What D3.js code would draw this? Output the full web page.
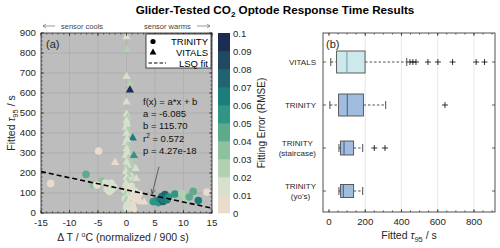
<!DOCTYPE html>
<html>
<head>
<meta charset="utf-8">
<script src="https://cdn.jsdelivr.net/npm/d3@7/dist/d3.min.js"></script>
<style>
  body { margin: 0; background: #fff; }
  svg { display: block; }
  text { font-family: "Liberation Sans", Arial, Helvetica, sans-serif; fill: #262626; }
</style>
</head>
<body>
<script>
// ---- data ----
// panel (a) : VITALS (triangles)
var vitalsDT  = [0.0, 0.1, 0.0, 0.6, 0.6, 0.0, 0.0, 0.2, 0.0, 0.1, -0.1, 0.2, 0.0, 1.1, 0.1, -0.1, 0.2, 0.0, 1.3, 0.1,
                 -0.1, 0.3, -2.0, 0.0, 1.0, 0.2, 1.6, 0.0, -0.1, 0.3, 1.7, 0.0, 0.2, -0.1, 0.1, 0.3, 1.2, 0.0, 0.2, 1.5,
                 2.4, 3.1, 0.0, 0.3, 0.0, 0.2, 0.5, 0.8];
var vitalsTau = [878, 815, 680, 645, 612, 552, 492, 476, 458, 442, 426, 410, 396, 372, 366, 350, 335, 318, 285, 302,
                 285, 268, 250, 252, 240, 236, 220, 220, 205, 190, 170, 175, 160, 145, 130, 115, 90, 100, 82, 62,
                 53, 52, 65, 48, 32, 18, 120, 75];
var vitalsErr = [0.008, 0.022, 0.012, 0.025, 0.093, 0.012, 0.014, 0.024, 0.012, 0.018, 0.012, 0.022, 0.012, 0.068, 0.018, 0.012, 0.025, 0.012, 0.055, 0.018,
                 0.012, 0.022, 0.007, 0.015, 0.028, 0.012, 0.018, 0.022, 0.012, 0.020, 0.012, 0.015, 0.025, 0.012, 0.018, 0.012, 0.007, 0.020, 0.012, 0.007,
                 0.007, 0.008, 0.025, 0.012, 0.018, 0.012, 0.009, 0.008];

// panel (a) : TRINITY (circles)
var trinityDT  = [-13.3, -7.1, -5.9, -4.35, -4.9, -5.2, -3.7, -3.2, -2.7, -3.4, -2.6, -2.2, -3.0,
                  0.0, 0.3, -0.2, 0.5, 1.0, 1.4, 0.8, 1.9, 2.2, 0.2, -0.3, 1.2, 0.6,
                  4.7, 5.2, 5.6, 5.9, 6.2, 6.4, 6.75, 6.9, 7.1, 6.5, 7.4, 8.5, 9.7, 10.2, 10.5, 11.0, 11.7, 12.6, 14.1];
var trinityTau = [148, 193, 140, 160, 310, 140, 150, 135, 148, 120, 118, 130, 108,
                  30, 50, 70, 95, 40, 110, 135, 75, 95, 160, 115, 20, 185,
                  57, 62, 52, 70, 82, 58, 92, 74, 66, 68, 80, 95, 98, 85, 72, 80, 108, 62, 105];
var trinityErr = [0.008, 0.042, 0.035, 0.038, 0.007, 0.008, 0.012, 0.012, 0.013, 0.012, 0.012, 0.011, 0.012,
                  0.008, 0.010, 0.012, 0.009, 0.008, 0.012, 0.010, 0.009, 0.008, 0.012, 0.010, 0.008, 0.013,
                  0.055, 0.058, 0.050, 0.062, 0.066, 0.070, 0.072, 0.075, 0.062, 0.068, 0.058, 0.052, 0.027, 0.030, 0.025, 0.040, 0.040, 0.062, 0.008];

// least squares fit shown in panel (a)
var fitA = -6.085, fitB = 115.70;
var fitText = ["f(x) = a*x + b", "a = -6.085", "b = 115.70", "r2 = 0.572", "p = 4.27e-18"];

// colour bar (fitting error, RMSE)
var errTicks  = [0, 0.01, 0.02, 0.03, 0.04, 0.05, 0.06, 0.07, 0.08, 0.09, 0.1];
var errColors = ["#e8dccc", "#d6e0cc", "#b1d1b0", "#8dc29e", "#5eaa8f", "#2f9585", "#1c7d7a", "#1f6470", "#1f4a62", "#1b2c55"];

// panel (b) : box plot summary
var boxCats   = [["VITALS"], ["TRINITY"], ["TRINITY", "(staircase)"], ["TRINITY", "(yo's)"]];
var boxLow    = [10, 5, 55, 55];
var boxQ1     = [42, 53, 64, 64];
var boxMedian = [99, 101, 83, 79];
var boxQ3     = [199, 190, 136, 136];
var boxHigh   = [429, 313, 186, 186];
var boxOutliers = [[447, 463, 480, 546, 601, 682, 812, 858], [640], [250, 309], []];

// ---- styling ----
var boxFill   = ["#cde9ec", "#a1bcdf", "#a1bcdf", "#a1bcdf"];
var boxMedCol = ["#6e9a9e", "#3f5f86", "#3f5f86", "#3f5f86"];
var boxHeight = [22, 22, 14, 13];
var axisCol = "#262626";

var svg = d3.select("body").append("svg").attr("width", 500).attr("height", 248);

// title
var title = svg.append("text").attr("x", 275).attr("y", 14).attr("text-anchor", "middle")
  .style("font-size", "11.7px").style("font-weight", "bold").style("fill", "#000");
title.append("tspan").text("Glider-Tested CO");
title.append("tspan").text("2").style("font-size", "8px").attr("dy", 3);
title.append("tspan").text(" Optode Response Time Results").attr("dy", -3);

// ================= panel (a) =================
var x = d3.scaleLinear().domain([-15, 15]).range([41, 212]);
var y = d3.scaleLinear().domain([0, 900]).range([213, 33]);
var color = d3.scaleQuantize().domain([0, 0.1]).range(errColors);

var pa = svg.append("g");
pa.append("rect").attr("x", x(-15)).attr("y", y(900)).attr("width", x(15) - x(-15)).attr("height", y(0) - y(900))
  .attr("fill", "#bdbdbd");

// grid
pa.selectAll(".gx").data(d3.range(-10, 15, 5)).enter().append("line")
  .attr("x1", d => x(d)).attr("x2", d => x(d)).attr("y1", y(0)).attr("y2", y(900))
  .attr("stroke", "#a9a9a9").attr("stroke-width", 0.6);
pa.selectAll(".gy").data(d3.range(100, 900, 100)).enter().append("line")
  .attr("y1", d => y(d)).attr("y2", d => y(d)).attr("x1", x(-15)).attr("x2", x(15))
  .attr("stroke", "#a9a9a9").attr("stroke-width", 0.6);

// points
var circles = trinityDT.map((d, i) => ({x: d, y: trinityTau[i], e: trinityErr[i]}));
var tris = vitalsDT.map((d, i) => ({x: d, y: vitalsTau[i], e: vitalsErr[i]}));

pa.selectAll(".trin").data(circles).enter().append("circle")
  .attr("cx", d => x(d.x)).attr("cy", d => y(d.y)).attr("r", 3.8)
  .attr("fill", d => color(d.e));
pa.selectAll(".vit").data(tris).enter().append("path")
  .attr("d", d3.symbol().type(d3.symbolTriangle).size(30))
  .attr("transform", d => "translate(" + x(d.x) + "," + (y(d.y) - 0.5) + ")")
  .attr("fill", d => color(d.e));

// fit line
pa.append("line")
  .attr("x1", x(-15)).attr("y1", y(fitA * -15 + fitB))
  .attr("x2", x(15)).attr("y2", y(fitA * 15 + fitB))
  .attr("stroke", "#000").attr("stroke-width", 1.6).attr("stroke-dasharray", "5,3");

// frame + ticks
pa.append("rect").attr("x", x(-15)).attr("y", y(900)).attr("width", x(15) - x(-15)).attr("height", y(0) - y(900))
  .attr("fill", "none").attr("stroke", axisCol).attr("stroke-width", 0.8);

function ticksX(g, scale, vals, y0, y1, len) {
  vals.forEach(function(v) {
    g.append("line").attr("x1", scale(v)).attr("x2", scale(v)).attr("y1", y0).attr("y2", y0 - len).attr("stroke", axisCol).attr("stroke-width", 0.7);
    g.append("line").attr("x1", scale(v)).attr("x2", scale(v)).attr("y1", y1).attr("y2", y1 + len).attr("stroke", axisCol).attr("stroke-width", 0.7);
  });
}
function ticksY(g, scale, vals, x0, x1, len) {
  vals.forEach(function(v) {
    g.append("line").attr("y1", scale(v)).attr("y2", scale(v)).attr("x1", x0).attr("x2", x0 + len).attr("stroke", axisCol).attr("stroke-width", 0.7);
    g.append("line").attr("y1", scale(v)).attr("y2", scale(v)).attr("x1", x1).attr("x2", x1 - len).attr("stroke", axisCol).attr("stroke-width", 0.7);
  });
}
ticksX(pa, x, d3.range(-15, 16, 1), y(0), y(900), 1.6);
ticksX(pa, x, d3.range(-15, 16, 5), y(0), y(900), 3);
ticksY(pa, y, d3.range(0, 901, 20), x(-15), x(15), 1.6);
ticksY(pa, y, d3.range(0, 901, 100), x(-15), x(15), 3);

// tick labels
pa.selectAll(".xl").data(d3.range(-15, 16, 5)).enter().append("text")
  .attr("x", d => x(d)).attr("y", y(0) + 13).attr("text-anchor", "middle")
  .style("font-size", "9.7px").text(d => d);
pa.selectAll(".yl").data(d3.range(0, 901, 100)).enter().append("text")
  .attr("x", x(-15) - 5).attr("y", d => y(d) + 3).attr("text-anchor", "end")
  .style("font-size", "9.7px").text(d => d);

// axis titles
var xt = pa.append("text").attr("x", 123).attr("y", 241).attr("text-anchor", "middle").style("font-size", "10.5px");
xt.append("tspan").text("\u0394 T  / ");
xt.append("tspan").text("o").style("font-size", "7px").attr("dy", -4);
xt.append("tspan").text("C (normalized / 900 s)").attr("dy", 4);

var yt = pa.append("text").attr("transform", "translate(15," + ((y(0) + y(900)) / 2) + ") rotate(-90)")
  .attr("text-anchor", "middle").style("font-size", "10.5px");
yt.append("tspan").text("Fitted ");
yt.append("tspan").text("\u03c4").style("font-style", "italic");
yt.append("tspan").text("95").style("font-size", "7.5px").attr("dy", 3);
yt.append("tspan").text(" / s").attr("dy", -3);

pa.append("text").attr("x", x(-15) + 5).attr("y", y(900) + 15).style("font-size", "11px").text("(a)");

// sensor cools / warms
function arrowH(g, xa, xb, yy) {
  g.append("line").attr("x1", xa).attr("x2", xb).attr("y1", yy).attr("y2", yy).attr("stroke", "#555").attr("stroke-width", 0.6);
  var dir = xb > xa ? -1 : 1;
  g.append("path").attr("d", "M" + (xb + dir * 3) + "," + (yy - 2) + "L" + xb + "," + yy + "L" + (xb + dir * 3) + "," + (yy + 2))
    .attr("fill", "none").attr("stroke", "#555").attr("stroke-width", 0.6);
}
arrowH(pa, 55, 43, 26);
pa.append("text").attr("x", 61).attr("y", 28.5).style("font-size", "7.5px").style("fill", "#444").text("sensor cools");
pa.append("text").attr("x", 144).attr("y", 28.5).style("font-size", "7.5px").style("fill", "#444").text("sensor warms");
arrowH(pa, 197, 210, 26);

// fit annotation
var ft = pa.append("g");
fitText.forEach(function(s, i) {
  var t = ft.append("text").attr("x", 143).attr("y", 105 + i * 12.2).style("font-size", "9.5px").style("fill", "#111");
  if (s.indexOf("r2") === 0) {
    t.append("tspan").text("r");
    t.append("tspan").text("2").style("font-size", "6.5px").attr("dy", -4);
    t.append("tspan").text(s.slice(2)).attr("dy", 4);
  } else t.text(s);
});
// arrow to the fit line
var arrFrom = [5.7, 232], arrTo = [4.5, 96];
pa.append("line").attr("x1", x(arrFrom[0])).attr("y1", y(arrFrom[1])).attr("x2", x(arrTo[0])).attr("y2", y(arrTo[1]))
  .attr("stroke", "#222").attr("stroke-width", 0.6);
(function() {
  var ang = Math.atan2(y(arrTo[1]) - y(arrFrom[1]), x(arrTo[0]) - x(arrFrom[0]));
  var hx = x(arrTo[0]), hy = y(arrTo[1]), L = 5, a = 0.45;
  pa.append("path").attr("d", "M" + (hx - L * Math.cos(ang - a)) + "," + (hy - L * Math.sin(ang - a)) + "L" + hx + "," + hy +
    "L" + (hx - L * Math.cos(ang + a)) + "," + (hy - L * Math.sin(ang + a)))
    .attr("fill", "none").attr("stroke", "#222").attr("stroke-width", 0.6);
})();

// legend
var lg = pa.append("g");
lg.append("rect").attr("x", 146).attr("y", 34).attr("width", 65).attr("height", 34)
  .attr("fill", "#fff").attr("stroke", "#000").attr("stroke-width", 0.7);
lg.append("circle").attr("cx", 153).attr("cy", 41.5).attr("r", 2.6).attr("fill", "#000");
lg.append("path").attr("d", d3.symbol().type(d3.symbolTriangle).size(20)).attr("transform", "translate(153,52.5)").attr("fill", "#000");
lg.append("line").attr("x1", 148.5).attr("x2", 166).attr("y1", 63).attr("y2", 63)
  .attr("stroke", "#000").attr("stroke-width", 1.1).attr("stroke-dasharray", "3.5,2");
["TRINITY", "VITALS", "LSQ fit"].forEach(function(s, i) {
  lg.append("text").attr("x", 208).attr("y", 45 + i * 10.8).attr("text-anchor", "end").style("font-size", "9.5px").style("fill", "#000").text(s);
});

// colour bar
var cb = d3.scaleLinear().domain([0, 0.1]).range([213, 33]);
var cg = svg.append("g");
cg.selectAll("rect").data(errColors).enter().append("rect")
  .attr("x", 218).attr("width", 12)
  .attr("y", (d, i) => cb(errTicks[i + 1])).attr("height", (d, i) => cb(errTicks[i]) - cb(errTicks[i + 1]) + 0.3)
  .attr("fill", d => d);
cg.selectAll("text").data(errTicks).enter().append("text")
  .attr("x", 233).attr("y", d => cb(d) + 3.5).style("font-size", "9.5px").text(d => d);
cg.append("text").attr("transform", "translate(265," + ((cb(0) + cb(0.1)) / 2) + ") rotate(-90)")
  .attr("text-anchor", "middle").style("font-size", "10px").text("Fitting Error (RMSE)");

// ================= panel (b) =================
var xb = d3.scaleLinear().domain([-33, 916]).range([323, 495]);
var yb = d3.scaleLinear().domain([0, 3]).range([62, 191]);
var pb = svg.append("g");
var bTop = 33, bBot = 212;

pb.selectAll(".gb").data([200, 400, 600, 800]).enter().append("line")
  .attr("x1", d => xb(d)).attr("x2", d => xb(d)).attr("y1", bTop).attr("y2", bBot)
  .attr("stroke", "#e3e3e3").attr("stroke-width", 0.8);

var boxes = boxCats.map((c, i) => ({i: i, lo: boxLow[i], q1: boxQ1[i], med: boxMedian[i], q3: boxQ3[i], hi: boxHigh[i], out: boxOutliers[i]}));
var bx = pb.selectAll(".box").data(boxes).enter().append("g");
// whiskers
bx.append("line").attr("x1", d => xb(d.lo)).attr("x2", d => xb(d.q1)).attr("y1", d => yb(d.i)).attr("y2", d => yb(d.i))
  .attr("stroke", "#000").attr("stroke-width", 0.7).attr("stroke-dasharray", "2.5,2");
bx.append("line").attr("x1", d => xb(d.q3)).attr("x2", d => xb(d.hi)).attr("y1", d => yb(d.i)).attr("y2", d => yb(d.i))
  .attr("stroke", "#000").attr("stroke-width", 0.7).attr("stroke-dasharray", "2.5,2");
bx.append("line").attr("x1", d => xb(d.lo)).attr("x2", d => xb(d.lo)).attr("y1", d => yb(d.i) - 4).attr("y2", d => yb(d.i) + 4)
  .attr("stroke", "#000").attr("stroke-width", 0.7);
bx.append("line").attr("x1", d => xb(d.hi)).attr("x2", d => xb(d.hi)).attr("y1", d => yb(d.i) - 4).attr("y2", d => yb(d.i) + 4)
  .attr("stroke", "#000").attr("stroke-width", 0.7);
// box
bx.append("rect").attr("x", d => xb(d.q1)).attr("width", d => xb(d.q3) - xb(d.q1))
  .attr("y", d => yb(d.i) - boxHeight[d.i] / 2).attr("height", d => boxHeight[d.i])
  .attr("fill", d => boxFill[d.i]).attr("stroke", "#4d4d4d").attr("stroke-width", 0.9);
bx.append("line").attr("x1", d => xb(d.med)).attr("x2", d => xb(d.med))
  .attr("y1", d => yb(d.i) - boxHeight[d.i] / 2).attr("y2", d => yb(d.i) + boxHeight[d.i] / 2)
  .attr("stroke", d => boxMedCol[d.i]).attr("stroke-width", 1);
// outliers
bx.each(function(d) {
  d3.select(this).selectAll(".o").data(d.out).enter().append("path")
    .attr("transform", v => "translate(" + xb(v) + "," + yb(d.i) + ")")
    .attr("d", "M-3,0H3M0,-3V3").attr("stroke", "#000").attr("stroke-width", 0.8);
});

// frame + ticks
pb.append("rect").attr("x", 323).attr("y", bTop).attr("width", 495 - 323).attr("height", bBot - bTop)
  .attr("fill", "none").attr("stroke", axisCol).attr("stroke-width", 0.8);
ticksX(pb, xb, d3.range(0, 901, 50), bBot, bTop, 1.6);
ticksX(pb, xb, d3.range(0, 801, 200), bBot, bTop, 3);
ticksY(pb, yb, [0, 1, 2, 3], 323, 495, 3);

pb.selectAll(".xbl").data(d3.range(0, 801, 200)).enter().append("text")
  .attr("x", d => xb(d)).attr("y", bBot + 13).attr("text-anchor", "middle").style("font-size", "9.7px").text(d => d);

// category labels
boxCats.forEach(function(lines, i) {
  var g = pb.append("g");
  var ts = lines.map(function(s, k) {
    return g.append("text").attr("y", yb(i) + 3 + (k - (lines.length - 1) / 2) * 10).attr("text-anchor", "middle")
      .style("font-size", "8px").text(s);
  });
  var w = d3.max(ts, t => t.node().getComputedTextLength());
  ts.forEach(t => t.attr("x", 316 - w / 2));
});

pb.append("text").attr("x", 326).attr("y", bTop + 15).style("font-size", "11px").text("(b)");

var xbt = pb.append("text").attr("x", 409).attr("y", 239).attr("text-anchor", "middle").style("font-size", "10.5px");
xbt.append("tspan").text("Fitted ");
xbt.append("tspan").text("\u03c4").style("font-style", "italic");
xbt.append("tspan").text("95").style("font-size", "7.5px").attr("dy", 3);
xbt.append("tspan").text(" / s").attr("dy", -3);
</script>
</body>
</html>
